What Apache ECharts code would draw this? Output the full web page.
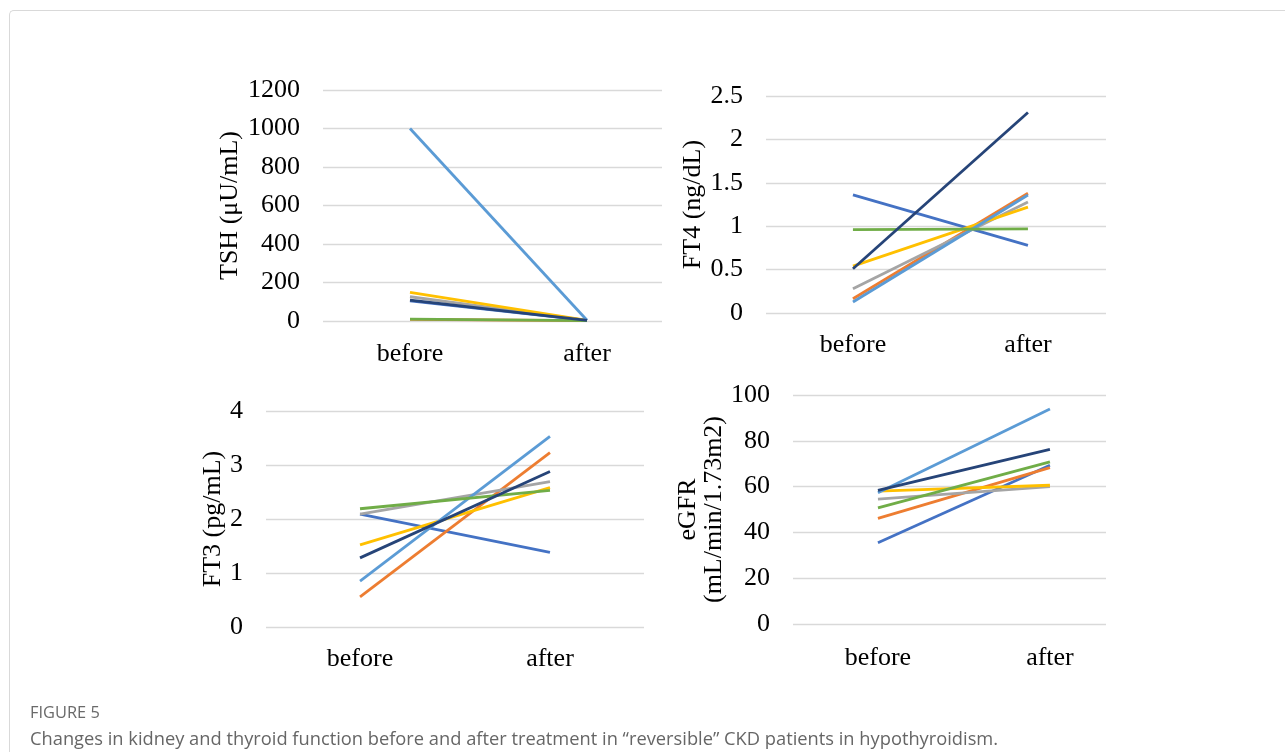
<!DOCTYPE html>
<html>
<head>
<meta charset="utf-8">
<script src="https://cdn.jsdelivr.net/npm/echarts@6/dist/echarts.min.js"></script>
<style>
  html, body { margin: 0; padding: 0; background: #fff; }
  #wrap { position: relative; width: 1285px; height: 752px; overflow: hidden; }
  #frame { position: absolute; left: 9px; top: 10px; width: 1400px; height: 900px;
           border-left: 1.5px solid #d9d9d9; border-top: 1.5px solid #d9d9d9; border-top-left-radius: 5px; }
  #chart { position: absolute; left: 0; top: 0; width: 1285px; height: 752px; }
  #figlabel { position: absolute; left: 30px; top: 701px; font-family: 'Open Sans', sans-serif;
              font-size: 16.4px; line-height: 22px; color: #6a6a6a; }
  #caption { position: absolute; left: 30px; top: 725px; font-family: 'Open Sans', sans-serif;
             font-size: 18.3px; line-height: 26px; color: #666; white-space: nowrap; }
</style>
</head>
<body>
<div id="wrap">
  <div id="frame"></div>
  <div id="chart"></div>
  <div id="figlabel">FIGURE 5</div>
  <div id="caption">Changes in kidney and thyroid function before and after treatment in “reversible” CKD patients in hypothyroidism.</div>
</div>
<script>
// ---- data ----
var categories = ['before', 'after'];
var patientColors = ['#4472C4', '#ED7D31', '#A5A5A5', '#FFC000', '#5B9BD5', '#70AD47', '#264478'];

var tshBefore  = [105, 8, 126, 149, 1000, 10, 109];
var tshAfter   = [3, 2, 3, 3, 4, 2, 3];
var tshTicks   = [0, 200, 400, 600, 800, 1000, 1200];

var ft4Before  = [1.36, 0.165, 0.28, 0.54, 0.127, 0.96, 0.51];
var ft4After   = [0.78, 1.38, 1.28, 1.22, 1.36, 0.97, 2.31];
var ft4Ticks   = [0, 0.5, 1, 1.5, 2, 2.5];

var ft3Before  = [2.09, 0.56, 2.09, 1.52, 0.85, 2.19, 1.28];
var ft3After   = [1.38, 3.23, 2.69, 2.58, 3.53, 2.53, 2.88];
var ft3Ticks   = [0, 1, 2, 3, 4];

var egfrBefore = [35.5, 46.1, 54.5, 58.0, 57.3, 50.7, 58.4];
var egfrAfter  = [69.3, 68.3, 60.0, 60.6, 93.9, 70.8, 76.3];
var egfrTicks  = [0, 20, 40, 60, 80, 100];

// ---- layout ----
var serif = 'Liberation Serif';
var fs = 26;
var panels = [
  { name: 'TSH (μU/mL)', before: tshBefore, after: tshAfter, ticks: tshTicks,
    grid: { left: 323, top: 90, width: 339, height: 231 }, xmin: -0.4915, xmax: 1.4237, nameGap: 80, xMargin: 20 },
  { name: 'FT4 (ng/dL)', before: ft4Before, after: ft4After, ticks: ft4Ticks,
    grid: { left: 766, top: 96, width: 340, height: 217 }, xmin: -0.497, xmax: 1.446, nameGap: 52, xMargin: 19 },
  { name: 'FT3 (pg/mL)', before: ft3Before, after: ft3After, ticks: ft3Ticks,
    grid: { left: 266, top: 411, width: 378, height: 216 }, xmin: -0.495, xmax: 1.495, nameGap: 38, xMargin: 19 },
  { name: 'eGFR\n(mL/min/1.73m2)', before: egfrBefore, after: egfrAfter, ticks: egfrTicks,
    grid: { left: 793, top: 395, width: 313, height: 229 }, xmin: -0.494, xmax: 1.326, nameGap: 55, xMargin: 21 }
];

var grids = [], xAxes = [], yAxes = [], series = [];
panels.forEach(function (p, i) {
  grids.push(p.grid);
  xAxes.push({
    type: 'value', gridIndex: i, min: p.xmin, max: p.xmax,
    axisLine: { show: false }, axisTick: { show: false }, splitLine: { show: false },
    axisLabel: {
      customValues: [0, 1],
      formatter: function (v) { return categories[Math.round(v)]; },
      fontFamily: serif, fontSize: fs, color: '#000', margin: p.xMargin
    }
  });
  var interval = p.ticks[1] - p.ticks[0];
  yAxes.push({
    type: 'value', gridIndex: i, min: p.ticks[0], max: p.ticks[p.ticks.length - 1], interval: interval,
    name: p.name, nameLocation: 'middle', nameRotate: 90, nameGap: p.nameGap,
    nameTextStyle: { fontFamily: serif, fontSize: fs, color: '#000', lineHeight: 26 },
    axisLine: { show: false }, axisTick: { show: false },
    splitLine: { lineStyle: { color: '#d9d9d9', width: 1.3 } },
    axisLabel: { fontFamily: serif, fontSize: fs, color: '#000', margin: 23,
                 formatter: function (v) { return String(v); } }
  });
  patientColors.forEach(function (c, k) {
    series.push({
      type: 'line', xAxisIndex: i, yAxisIndex: i,
      data: [[0, p.before[k]], [1, p.after[k]]],
      showSymbol: false, symbol: 'none', silent: true,
      lineStyle: { color: c, width: 2.8 }, itemStyle: { color: c }
    });
  });
});

var chart = echarts.init(document.getElementById('chart'), null, { renderer: 'canvas' });
chart.setOption({
  animation: false,
  backgroundColor: 'transparent',
  grid: grids, xAxis: xAxes, yAxis: yAxes, series: series
});
</script>
</body>
</html>
